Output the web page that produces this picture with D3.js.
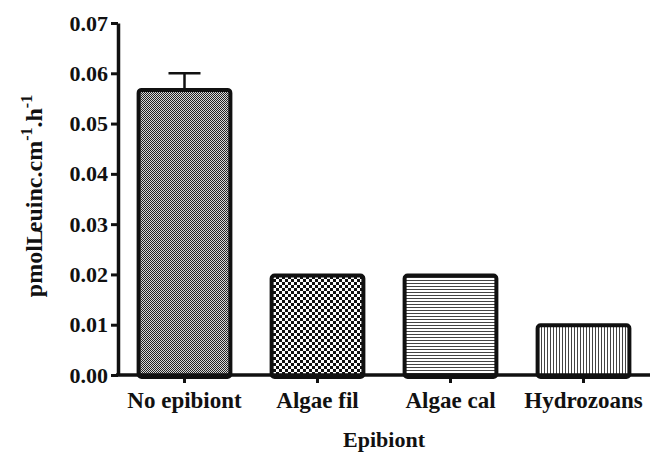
<!DOCTYPE html>
<html>
<head>
<meta charset="utf-8">
<script src="https://cdn.jsdelivr.net/npm/d3@7"></script>
<style>
  body { margin: 0; background: #fff; }
  svg text { font-family: "Liberation Serif", "Times New Roman", Times, "DejaVu Serif", serif !important; font-weight: bold; fill: #111; }
</style>
</head>
<body>
<div id="chart"></div>
<script>
var categories = ["No epibiont", "Algae fil", "Algae cal", "Hydrozoans"];
var values = [0.0567, 0.0198, 0.0198, 0.0099];
var errors = [0.0033, 0, 0, 0];
var patterns = ["fineDots", "checker", "hLines", "vLines"];
var yTicks = [0, 0.01, 0.02, 0.03, 0.04, 0.05, 0.06, 0.07];

var W = 655, H = 455;
var margin = {left: 118, right: 5, top: 23, bottom: 80};
var fontSize = 22;

var svg = d3.select("#chart").append("svg")
    .attr("width", W)
    .attr("height", H);

var defs = svg.append("defs");

// fine gray dot pattern
var p1 = defs.append("pattern").attr("id", "fineDots").attr("patternUnits", "userSpaceOnUse")
    .attr("width", 2).attr("height", 2);
p1.append("rect").attr("width", 2).attr("height", 2).attr("fill", "#d8d8d8");
p1.append("rect").attr("width", 1).attr("height", 1).attr("fill", "#222");
p1.append("rect").attr("x", 1).attr("y", 1).attr("width", 1).attr("height", 1).attr("fill", "#222");

// coarse checkerboard
var p2 = defs.append("pattern").attr("id", "checker").attr("patternUnits", "userSpaceOnUse")
    .attr("width", 6).attr("height", 6);
p2.append("rect").attr("width", 6).attr("height", 6).attr("fill", "#fff");
p2.append("rect").attr("width", 3).attr("height", 3).attr("fill", "#111");
p2.append("rect").attr("x", 3).attr("y", 3).attr("width", 3).attr("height", 3).attr("fill", "#111");

// horizontal lines
var p3 = defs.append("pattern").attr("id", "hLines").attr("patternUnits", "userSpaceOnUse")
    .attr("width", 4).attr("height", 3);
p3.append("rect").attr("width", 4).attr("height", 3).attr("fill", "#fff");
p3.append("rect").attr("y", 1).attr("width", 4).attr("height", 1).attr("fill", "#444");

// vertical lines
var p4 = defs.append("pattern").attr("id", "vLines").attr("patternUnits", "userSpaceOnUse")
    .attr("width", 3).attr("height", 4);
p4.append("rect").attr("width", 3).attr("height", 4).attr("fill", "#fff");
p4.append("rect").attr("x", 1).attr("width", 1).attr("height", 4).attr("fill", "#444");

var x = d3.scaleBand()
    .domain(categories)
    .range([margin.left, W - margin.right])
    .paddingInner(0.31)
    .paddingOuter(0.155);

var y = d3.scaleLinear()
    .domain([0, 0.07])
    .range([H - margin.bottom, margin.top]);

// error bars (drawn first so bar sits over the stem)
var err = svg.append("g");
categories.forEach(function(c, i) {
    if (!errors[i]) return;
    var cx = x(c) + x.bandwidth() / 2;
    err.append("line").attr("x1", cx).attr("x2", cx)
        .attr("y1", y(values[i])).attr("y2", y(values[i] + errors[i]))
        .attr("stroke", "#111").attr("stroke-width", 2.5);
    err.append("line").attr("x1", cx - 16).attr("x2", cx + 16)
        .attr("y1", y(values[i] + errors[i])).attr("y2", y(values[i] + errors[i]))
        .attr("stroke", "#111").attr("stroke-width", 2.5);
});

// bars
svg.append("g").selectAll("rect")
    .data(categories)
    .enter().append("rect")
    .attr("x", function(d) { return x(d); })
    .attr("y", function(d, i) { return y(values[i]); })
    .attr("width", x.bandwidth())
    .attr("height", function(d, i) { return y(0) - y(values[i]) + 2; })
    .attr("rx", 3)
    .attr("fill", function(d, i) { return "url(#" + patterns[i] + ")"; })
    .attr("stroke", "#111")
    .attr("stroke-width", 4);

// y axis
var yAxis = svg.append("g")
    .attr("transform", "translate(" + margin.left + ",0)")
    .call(d3.axisLeft(y).tickValues(yTicks).tickFormat(d3.format(".2f")).tickSize(7).tickSizeOuter(0));
yAxis.attr("font-family", null);
yAxis.select(".domain").attr("stroke", "#111").attr("stroke-width", 3.5);
yAxis.selectAll(".tick line").attr("stroke", "#111").attr("stroke-width", 3);
yAxis.selectAll(".tick text").attr("font-size", fontSize).attr("x", -10).attr("fill", "#111");

// x axis
var xAxis = svg.append("g")
    .attr("transform", "translate(0," + y(0) + ")")
    .call(d3.axisBottom(x).tickSize(8).tickSizeOuter(0));
xAxis.attr("font-family", null);
xAxis.select(".domain").attr("stroke", "#111").attr("stroke-width", 3.5)
    .attr("d", "M" + (margin.left - 2) + ",0H" + (W - margin.right));
xAxis.selectAll(".tick line").attr("stroke", "#111").attr("stroke-width", 3);
xAxis.selectAll(".tick text").attr("font-size", fontSize + 1).attr("y", 17).attr("fill", "#111");

// axis titles
svg.append("text")
    .attr("x", 384)
    .attr("y", 447)
    .attr("text-anchor", "middle")
    .attr("font-size", fontSize)
    .text("Epibiont");

var yt = svg.append("text")
    .attr("transform", "translate(42,196) rotate(-90)")
    .attr("text-anchor", "middle")
    .attr("font-size", fontSize + 2);
yt.append("tspan").text("pmolL");
yt.append("tspan").attr("dx", -3).text("euinc.cm");
yt.append("tspan").attr("dy", -10).attr("font-size", 16).text("-1");
yt.append("tspan").attr("dy", 10).text(".h");
yt.append("tspan").attr("dy", -10).attr("font-size", 16).text("-1");
</script>
</body>
</html>
